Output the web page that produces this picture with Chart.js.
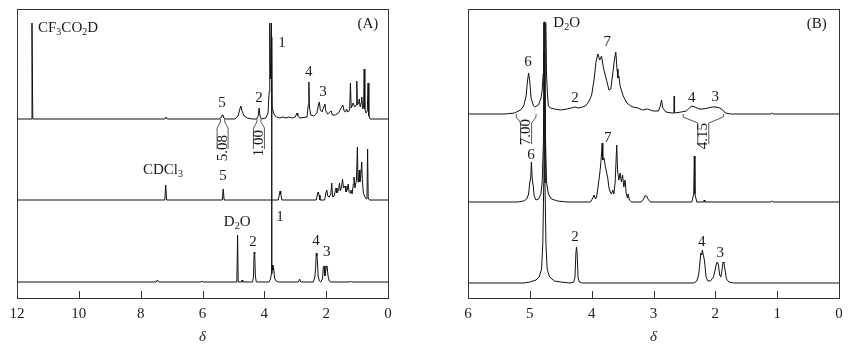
<!DOCTYPE html>
<html><head><meta charset="utf-8">
<script src="https://cdn.jsdelivr.net/npm/chart.js@4.4.1/dist/chart.umd.min.js"></script>
<style>
html,body{margin:0;padding:0;background:#fff;}
#wrap{position:relative;width:851px;height:352px;overflow:hidden;}
canvas{position:absolute;top:0;}
</style></head><body>
<div id="wrap"><canvas id="ca" width="430" height="352" style="left:0"></canvas><canvas id="cb" width="421" height="352" style="left:430px"></canvas></div>
<script>
// ---------- DATA: spectra as [delta (ppm), intensity above baseline] ----------
const specA_top = [[12,0],[11.54,0],[11.515,96],[11.49,0],
 [7.22,0],[7.18,2],[7.14,0],
 [5.45,0],[5.40,2],[5.37,4],[5.34,4],[5.31,1],[5.25,0],
 [4.95,0],[4.85,3],[4.79,10],[4.76,13],[4.72,8],[4.65,3],[4.55,1],[4.40,0],
 [4.25,0],[4.20,3],[4.17,11],[4.14,3],[4.09,0],
 [3.95,1],[3.88,6],[3.845,27],[3.825,96],[3.80,40],[3.77,96],[3.75,12],[3.70,6],[3.65,3],[3.60,2],[3.50,1],[3.40,2],[3.30,1],[3.20,2],[3.10,1],[3.00,2],[2.96,5],[2.94,6],[2.92,3],[2.85,1],
 [2.62,2],[2.58,14],[2.56,37],[2.54,12],[2.50,4],[2.40,3],[2.30,6],[2.25,14],[2.22,17],[2.19,9],[2.13,7],[2.07,13],[2.04,15],[2.01,8],[1.95,5],[1.88,7],[1.84,8],[1.80,4],[1.70,4],[1.60,6],[1.50,12],[1.46,14],[1.42,8],[1.37,7],[1.34,10],[1.30,7],[1.24,9],[1.215,36],[1.19,11],[1.15,14],[1.13,16],[1.08,12],[1.03,14],[1.01,38],[0.99,14],[0.95,16],[0.93,20],[0.90,12],[0.87,16],[0.85,22],[0.82,10],[0.79,12],[0.77,50],[0.75,10],[0.71,6],[0.67,8],[0.645,36],[0.62,3],[0.58,0],[0,0]];
const specA_mid = [[12,0],[7.22,0],[7.19,15],[7.16,0],
 [5.36,0],[5.33,11],[5.30,0],
 [3.55,0],[3.51,6],[3.49,9],[3.47,6],[3.43,0],
 [2.32,0],[2.28,6],[2.26,8],[2.23,5],[2.20,0],[2.05,0],[2.01,7],[1.98,10],[1.95,4],[1.90,3],[1.85,6],[1.82,17],[1.79,3],[1.74,4],[1.70,10],[1.68,12],[1.65,7],[1.60,10],[1.57,17],[1.54,9],[1.50,14],[1.47,21],[1.44,12],[1.39,14],[1.36,8],[1.32,10],[1.29,16],[1.26,8],[1.22,7],[1.20,10],[1.16,6],[1.12,16],[1.10,23],[1.07,12],[1.02,20],[0.99,53],[0.97,18],[0.95,22],[0.93,30],[0.91,18],[0.88,24],[0.85,38],[0.83,20],[0.80,8],[0.75,3],[0.70,1],[0.68,3],[0.66,51],[0.64,2],[0.60,0],[0,0]];
const specA_bot = [[12,0],[7.50,0],[7.46,2],[7.42,0],[6.05,0],[6.02,1],[5.99,0],
 [4.89,0],[4.865,47],[4.845,0],[4.74,0],[4.72,2],[4.70,0],
 [4.38,0],[4.35,6],[4.33,30],[4.31,28],[4.29,6],[4.26,0],
 [3.85,0],[3.80,3],[3.775,8],[3.765,245],[3.755,8],[3.74,17],[3.72,12],[3.70,14],[3.67,4],[3.62,1],[3.55,0],
 [2.90,0],[2.86,3],[2.82,0],
 [2.42,0],[2.37,4],[2.34,14],[2.32,29],[2.30,26],[2.28,20],[2.26,6],[2.22,1],[2.18,0],[2.12,3],[2.09,15],[2.07,16],[2.04,6],[2.01,12],[1.99,16],[1.97,16],[1.94,6],[1.90,1],[1.85,0],
 [1.24,0],[1.21,1],[1.18,0],[0,0]];

const specB_top = [[6,0],[5.40,0],[5.25,1],[5.15,4],[5.10,8],[5.06,18],[5.04,32],[5.02,41],[5.00,32],[4.98,16],[4.94,8],[4.92,7],[4.86,9],[4.82,16],[4.80,24],[4.785,40],[4.775,91],[4.74,91],[4.73,40],[4.715,20],[4.70,8],[4.67,6],[4.60,5],[4.50,4],[4.40,5],[4.33,6],[4.27,7],[4.22,6],[4.15,7],
 [4.10,8],[4.05,12],[4.00,19],[3.96,35],[3.93,52],[3.90,60],[3.87,54],[3.84,58],[3.81,46],[3.76,34],[3.72,24],[3.69,25],[3.66,40],[3.63,55],[3.61,62],[3.59,45],[3.575,36],[3.56,38],[3.54,28],[3.49,18],[3.43,11],[3.37,8],[3.33,7],[3.25,6],[3.18,4],[3.10,5],[3.00,3],[2.92,3],[2.89,8],[2.87,14],[2.85,6],[2.80,2],[2.70,1],[2.67,1],[2.665,18],[2.66,1],[2.55,2],[2.47,3],[2.42,6],[2.38,8],[2.33,7],[2.26,5],[2.20,5],[2.12,6],[2.05,7],[1.99,7],[1.93,6],[1.88,4],[1.84,1],[1.75,0],[1.10,0],[1.08,1],[1.06,0],[0,0]];
const specB_mid = [[6,0],[5.20,0],[5.10,1],[5.05,3],[5.02,8],[5.00,20],[4.985,24],[4.975,40],[4.96,22],[4.945,16],[4.93,6],[4.90,2],[4.86,3],[4.82,8],[4.80,20],[4.78,60],[4.77,150],[4.755,150],[4.745,60],[4.73,20],[4.70,8],[4.65,3],[4.55,1],[4.40,0],
 [4.02,0],[3.98,4],[3.96,7],[3.94,3],[3.92,5],[3.90,14],[3.87,28],[3.85,40],[3.83,59],[3.82,42],[3.80,44],[3.78,36],[3.76,30],[3.74,24],[3.72,14],[3.70,10],[3.68,8],[3.66,12],[3.64,8],[3.62,20],[3.595,57],[3.58,30],[3.56,22],[3.54,29],[3.52,20],[3.50,27],[3.48,15],[3.46,22],[3.44,8],[3.42,4],[3.41,8],[3.39,2],[3.35,0],[3.20,0],[3.16,3],[3.14,6],[3.11,6],[3.09,3],[3.05,0],
 [2.38,0],[2.35,8],[2.34,46],[2.33,8],[2.30,0],[2.19,0],[2.18,2],[2.17,0],[1.10,0],[1.08,1],[1.06,0],[0,0]];
const specB_bot = [[6,0],[5.10,0],[5.00,1],[4.90,3],[4.85,6],[4.81,14],[4.79,40],[4.775,100],[4.772,261],[4.758,261],[4.755,100],[4.74,40],[4.72,14],[4.68,6],[4.60,2],[4.50,1],[4.35,0],
 [4.29,1],[4.27,6],[4.255,30],[4.245,36],[4.235,30],[4.22,5],[4.20,1],[4.15,0],
 [2.35,0],[2.30,2],[2.27,8],[2.25,20],[2.235,30],[2.22,28],[2.21,33],[2.195,28],[2.18,24],[2.165,16],[2.15,6],[2.12,2],[2.08,2],[2.03,6],[2.00,14],[1.98,20],[1.965,21],[1.95,18],[1.93,8],[1.91,6],[1.89,14],[1.875,21],[1.86,20],[1.84,12],[1.82,4],[1.78,1],[1.70,0],[0,0]];

// axis tick values
const ticksA = [12,10,8,6,4,2,0];
const ticksB = [6,5,4,3,2,1,0];

// peak annotations: [text, delta, height level]
const notesA = [['CF_3CO_2D',11.32,270,'left'],['(A)',0.65,274],['1',3.43,255],['5',5.37,195],['2',4.17,200],['4',2.56,226],['3',2.10,206],
 ['CDCl_3',7.28,128],['5',5.34,122],['D_2O',4.88,76],['1',3.49,81],['2',4.37,56],['4',2.33,57],['3',1.98,46]];
const notesB = [['6',5.03,236],['D_2O',4.62,275,'left'],['2',4.27,200],['7',3.75,256],['4',2.38,200],['3',2.00,201],['(B)',0.36,274],
 ['6',4.98,143],['7',3.74,160],['2',4.27,61],['4',2.22,56],['3',1.92,45]];

// integrals: [text, from delta, to delta]
const intA = [['5.08',5.42,5.28],['1.00',4.24,4.11]];
const intB = [['7.00',5.22,4.90],['4.15',2.52,1.87]];

// ---------- layout ----------
const offsA = [179, 98, 16];
const offsB = [184, 96, 15];
const intDropA = [29, 24];
const intDropB = [18, 22];
const FONT = '"Liberation Serif", "Times New Roman", serif';

function drawRich(ctx, text, x, y, size, align) {
  const segs = [];
  for (let i = 0; i < text.length; i++) {
    if (text[i] === '_') { segs.push({t: text[i+1], sub: true}); i++; }
    else segs.push({t: text[i], sub: false});
  }
  let w = 0;
  segs.forEach(s => { ctx.font = (s.sub ? Math.round(size*0.68) : size) + 'px ' + FONT; s.w = ctx.measureText(s.t).width; w += s.w; });
  let cx = align === 'left' ? x : x - w/2;
  ctx.textBaseline = 'middle'; ctx.textAlign = 'left';
  segs.forEach(s => { ctx.font = (s.sub ? Math.round(size*0.68) : size) + 'px ' + FONT; ctx.fillText(s.t, cx, s.sub ? y + size*0.28 : y); cx += s.w; });
}

function makeDeco(tickVals, notes, ints, drops, topOff) {
  return {
    id: 'deco',
    afterDatasetsDraw(chart) {
      const ctx = chart.ctx, a = chart.chartArea, xs = chart.scales.x, ys = chart.scales.y;
      ctx.save();
      ctx.strokeStyle = '#333'; ctx.lineWidth = 1;
      ctx.strokeRect(Math.round(a.left)+0.5, Math.round(a.top)+0.5, Math.round(a.right-a.left), Math.round(a.bottom-a.top));
      tickVals.forEach(v => {
        const px = Math.round(xs.getPixelForValue(v)) + 0.5;
        ctx.beginPath(); ctx.moveTo(px, a.bottom); ctx.lineTo(px, a.bottom - 7); ctx.stroke();
      });
      ctx.fillStyle = '#1a1a1a';
      notes.forEach(n => drawRich(ctx, n[0], xs.getPixelForValue(n[1]), ys.getPixelForValue(n[2]), 15, n[3]));
      const base = ys.getPixelForValue(topOff);
      ints.forEach((it, i) => {
        const xl = xs.getPixelForValue(it[1]), xr = xs.getPixelForValue(it[2]);
        const cx = (xl + xr) / 2;
        const cy = base + drops[i];
        ctx.strokeStyle = '#444'; ctx.lineWidth = 0.9;
        ctx.beginPath();
        ctx.moveTo(xl, base); ctx.lineTo(xl, base + 3); ctx.lineTo(cx - 5.5, base + 9); ctx.lineTo(cx - 5.5, base + 30);
        ctx.moveTo(xr, base); ctx.lineTo(xr, base + 3); ctx.lineTo(cx + 5.5, base + 9); ctx.lineTo(cx + 5.5, base + 30);
        ctx.stroke();
        ctx.save(); ctx.translate(cx, cy); ctx.rotate(-Math.PI/2);
        ctx.font = '15px ' + FONT; ctx.textAlign = 'center'; ctx.textBaseline = 'middle'; ctx.fillStyle = '#1a1a1a';
        ctx.fillText(it[0], 0, 0);
        ctx.restore();
      });
      ctx.restore();
    }
  };
}

function makeChart(id, specs, offs, xmax, step, pad, tickVals, notes, ints, drops) {
  return new Chart(document.getElementById(id), {
    type: 'line',
    data: { datasets: specs.map((s, i) => ({
      data: s.map(p => ({x: p[0], y: p[1] + offs[i]})),
      borderColor: '#111', borderWidth: 1, pointRadius: 0, tension: 0, fill: false
    })) },
    options: {
      responsive: false, animation: false, devicePixelRatio: 1,
      layout: { padding: pad },
      plugins: { legend: { display: false }, tooltip: { enabled: false } },
      scales: {
        x: { type: 'linear', reverse: true, min: 0, max: xmax,
          afterFit: s => { s.height = 54; },
          ticks: { stepSize: step, autoSkip: false, maxRotation: 0, padding: 7, color: '#222', font: { family: FONT, size: 15 } },
          grid: { display: false, drawTicks: false }, border: { display: false },
          title: { display: true, text: 'δ', color: '#222', font: { family: FONT, size: 15, style: 'italic' }, padding: { top: 0, bottom: 6 } } },
        y: { display: false, min: 0, max: 289 }
      }
    },
    plugins: [makeDeco(tickVals, notes, ints, drops, offs[0])]
  });
}

makeChart('ca', [specA_top, specA_mid, specA_bot], offsA, 12, 2, {left: 17, right: 42, top: 9, bottom: 0}, ticksA, notesA, intA, intDropA);
makeChart('cb', [specB_top, specB_mid, specB_bot], offsB, 6, 1, {left: 38, right: 12, top: 9, bottom: 0}, ticksB, notesB, intB, intDropB);
</script>
</body></html>
